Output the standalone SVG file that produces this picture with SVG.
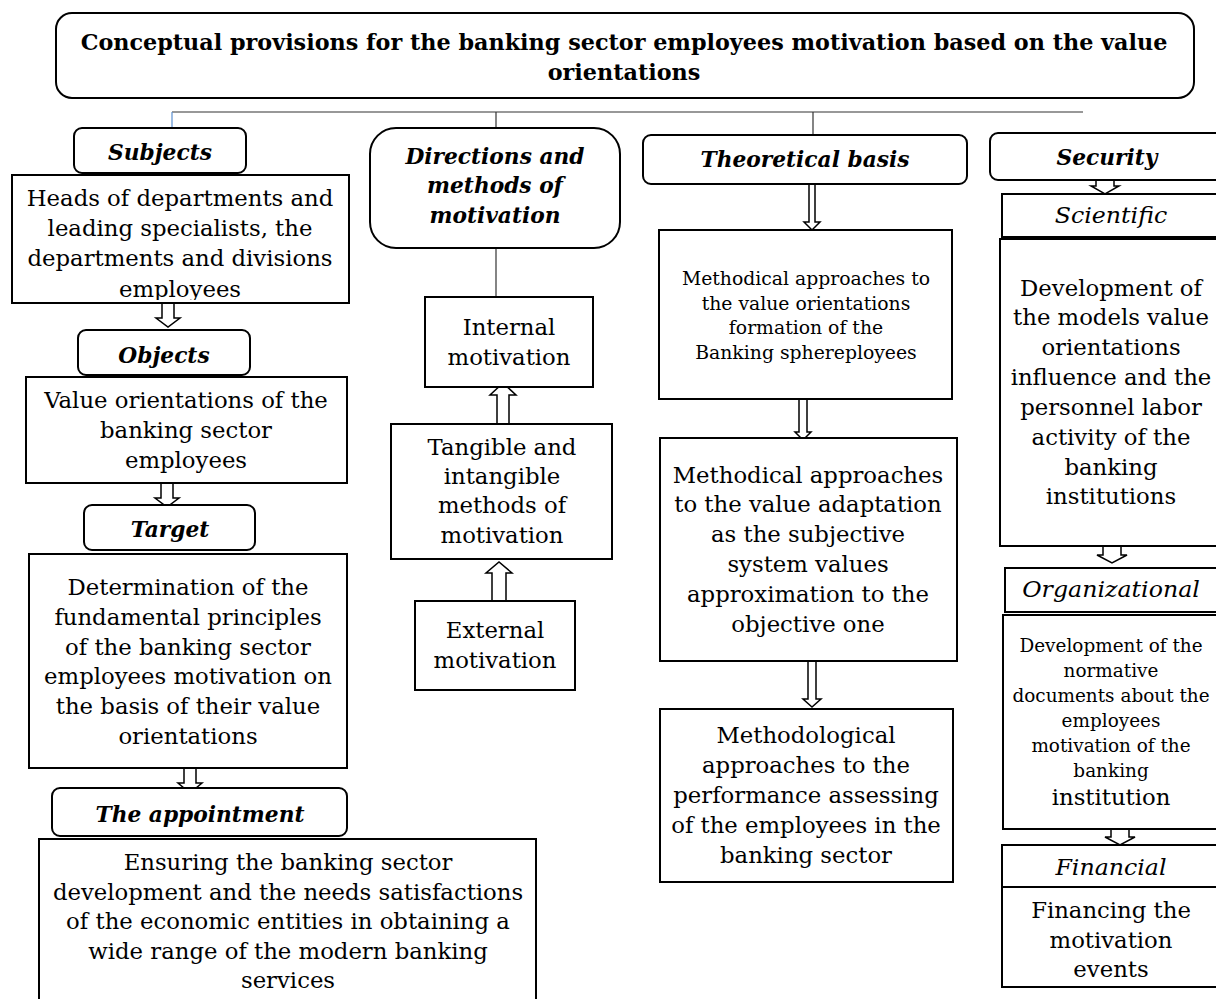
<svg xmlns="http://www.w3.org/2000/svg" width="1216" height="999" viewBox="0 0 1216 999">
<style>
text{font-family:"DejaVu Serif",serif;fill:#000;text-anchor:middle}
.t{font-weight:bold;font-size:23px}
.h{font-weight:bold;font-style:italic;font-size:23px}
.i{font-style:italic;font-size:23px}
.b{font-size:23px}
.s{font-size:19px}
.box{fill:#fff;stroke:#000;stroke-width:2}
.arr{fill:#fff;stroke:#000;stroke-width:1.5;stroke-linejoin:miter}
.ln{fill:none;stroke:#333;stroke-width:1.2}
</style>
<defs>
<clipPath id="clipSub"><rect x="12" y="175" width="337" height="125"/></clipPath>
</defs>
<rect width="1216" height="999" fill="#fff"/>

<g id="connectors">
<line class="ln" x1="172" y1="112" x2="1083" y2="112"/>
<line x1="172" y1="112" x2="172" y2="128" stroke="#5b8fd0" stroke-width="1.2"/>
<line class="ln" x1="496" y1="112" x2="496" y2="128"/>
<line class="ln" x1="813" y1="112" x2="813" y2="135"/>
<line class="ln" x1="496" y1="248" x2="496" y2="297"/>
<polygon class="arr" points="162,303 174,303 174,318 180,318 168,327 156,318 162,318"/>
<polygon class="arr" points="161,483 173,483 173,498 179,498 167,507 155,498 161,498"/>
<polygon class="arr" points="184,768 196,768 196,783 202,783 190,793 178,783 184,783"/>
<polygon class="arr" points="809,184 815,184 815,222 820,222 812,230 804,222 809,222"/>
<polygon class="arr" points="799,399 807,399 807,432 811,432 803,440 795,432 799,432"/>
<polygon class="arr" points="808,661 816,661 816,699 821,699 812,707 803,699 808,699"/>
<polygon class="arr" points="497,424 509,424 509,395 516,395 503,383 490,395 497,395"/>
<polygon class="arr" points="492,601 506,601 506,573 512,573 499,562 486,573 492,573"/>
<polygon class="arr" points="1096,180 1114,180 1114,186 1119,186 1105,194 1091,186 1096,186"/>
<polygon class="arr" points="1103,546 1121,546 1121,555 1127,555 1112,563 1097,555 1103,555"/>
<polygon class="arr" points="1111,829 1129,829 1129,837 1135,837 1120,845 1105,837 1111,837"/>
</g>

<g id="title">
<rect class="box" x="56" y="13" width="1138" height="85" rx="16"/>
<text class="t" transform="matrix(0.97 0 0 1 624 0)"><tspan x="0" y="50">Conceptual provisions for the banking sector employees motivation based on the value</tspan><tspan x="0" y="80">orientations</tspan></text>
</g>

<g id="subjects">
<rect class="box" x="74" y="128" width="172" height="45" rx="8"/>
<text class="h" transform="matrix(0.945 0 0 1 160 0)" y="160">Subjects</text>
</g>
<g id="subjects-content">
<rect class="box" x="12" y="175" width="337" height="128"/>
<g clip-path="url(#clipSub)">
<text class="b" transform="matrix(0.99 0 0 1 180 0)"><tspan x="0" y="206">Heads of departments and</tspan><tspan x="0" y="236">leading specialists, the</tspan><tspan x="0" y="266">departments and divisions</tspan><tspan x="0" y="297">employees</tspan></text>
</g>
</g>

<g id="objects">
<rect class="box" x="78" y="330" width="172" height="45" rx="8"/>
<text class="h" transform="matrix(0.945 0 0 1 164 0)" y="363">Objects</text>
</g>
<g id="objects-content">
<rect class="box" x="26" y="377" width="321" height="106"/>
<text class="b" transform="matrix(0.99 0 0 1 186 0)"><tspan x="0" y="408">Value orientations of the</tspan><tspan x="0" y="438">banking sector</tspan><tspan x="0" y="468">employees</tspan></text>
</g>

<g id="target">
<rect class="box" x="84" y="505" width="171" height="45" rx="8"/>
<text class="h" transform="matrix(0.945 0 0 1 170 0)" y="537">Target</text>
</g>
<g id="target-content">
<rect class="box" x="29" y="554" width="318" height="214"/>
<text class="b" transform="matrix(0.99 0 0 1 188 0)"><tspan x="0" y="595">Determination of the</tspan><tspan x="0" y="625">fundamental principles</tspan><tspan x="0" y="655">of the banking sector</tspan><tspan x="0" y="684">employees motivation on</tspan><tspan x="0" y="714">the basis of their value</tspan><tspan x="0" y="744">orientations</tspan></text>
</g>

<g id="appointment">
<rect class="box" x="52" y="788" width="295" height="48" rx="8"/>
<text class="h" transform="matrix(0.945 0 0 1 200 0)" y="822">The appointment</text>
</g>
<g id="appointment-content">
<rect class="box" x="39" y="839" width="497" height="170"/>
<text class="b" transform="matrix(0.99 0 0 1 288 0)"><tspan x="0" y="870">Ensuring the banking sector</tspan><tspan x="0" y="900">development and the needs satisfactions</tspan><tspan x="0" y="929">of the economic entities in obtaining a</tspan><tspan x="0" y="959">wide range of the modern banking</tspan><tspan x="0" y="988">services</tspan></text>
</g>

<g id="directions">
<rect class="box" x="370" y="128" width="250" height="120" rx="26"/>
<text class="h" transform="matrix(0.945 0 0 1 495 0)"><tspan x="0" y="164">Directions and</tspan><tspan x="0" y="193">methods of</tspan><tspan x="0" y="223">motivation</tspan></text>
</g>
<g id="internal">
<rect class="box" x="425" y="297" width="168" height="90"/>
<text class="b" transform="matrix(0.99 0 0 1 509 0)"><tspan x="0" y="335">Internal</tspan><tspan x="0" y="365">motivation</tspan></text>
</g>
<g id="tangible">
<rect class="box" x="391" y="424" width="221" height="135"/>
<text class="b" transform="matrix(0.99 0 0 1 502 0)"><tspan x="0" y="455">Tangible and</tspan><tspan x="0" y="484">intangible</tspan><tspan x="0" y="513">methods of</tspan><tspan x="0" y="543">motivation</tspan></text>
</g>
<g id="external">
<rect class="box" x="415" y="601" width="160" height="89"/>
<text class="b" transform="matrix(0.99 0 0 1 495 0)"><tspan x="0" y="638">External</tspan><tspan x="0" y="668">motivation</tspan></text>
</g>

<g id="theoretical">
<rect class="box" x="643" y="135" width="324" height="49" rx="8"/>
<text class="h" transform="matrix(0.945 0 0 1 805 0)" y="167">Theoretical basis</text>
</g>
<g id="theory-1">
<rect class="box" x="659" y="230" width="293" height="169"/>
<text class="s" transform="matrix(0.99 0 0 1 806 0)"><tspan x="0" y="285">Methodical approaches to</tspan><tspan x="0" y="310">the value orientations</tspan><tspan x="0" y="334">formation of the</tspan><tspan x="0" y="359">Banking sphereployees</tspan></text>
</g>
<g id="theory-2">
<rect class="box" x="660" y="438" width="297" height="223"/>
<text class="b" transform="matrix(0.99 0 0 1 808 0)"><tspan x="0" y="483">Methodical approaches</tspan><tspan x="0" y="512">to the value adaptation</tspan><tspan x="0" y="542">as the subjective</tspan><tspan x="0" y="572">system values</tspan><tspan x="0" y="602">approximation to the</tspan><tspan x="0" y="632">objective one</tspan></text>
</g>
<g id="theory-3">
<rect class="box" x="660" y="709" width="293" height="173"/>
<text class="b" transform="matrix(0.99 0 0 1 806 0)"><tspan x="0" y="743">Methodological</tspan><tspan x="0" y="773">approaches to the</tspan><tspan x="0" y="803">performance assessing</tspan><tspan x="0" y="833">of the employees in the</tspan><tspan x="0" y="863">banking sector</tspan></text>
</g>

<g id="security">
<rect class="box" x="990" y="133" width="240" height="47" rx="8"/>
<text class="h" transform="matrix(0.945 0 0 1 1107 0)" y="165">Security</text>
</g>
<g id="scientific">
<rect class="box" x="1002" y="194" width="230" height="43"/>
<text class="i" transform="matrix(1.03 0 0 1 1111 0)" y="223">Scientific</text>
</g>
<g id="scientific-content">
<rect class="box" x="1000" y="239" width="232" height="307"/>
<text class="b" transform="matrix(0.99 0 0 1 1111 0)"><tspan x="0" y="296">Development of</tspan><tspan x="0" y="325">the models value</tspan><tspan x="0" y="355">orientations</tspan><tspan x="0" y="385">influence and the</tspan><tspan x="0" y="415">personnel labor</tspan><tspan x="0" y="445">activity of the</tspan><tspan x="0" y="475">banking</tspan><tspan x="0" y="504">institutions</tspan></text>
</g>
<g id="organizational">
<rect class="box" x="1005" y="568" width="227" height="44"/>
<text class="i" transform="matrix(1.03 0 0 1 1111 0)" y="597">Organizational</text>
</g>
<g id="organizational-content">
<rect class="box" x="1003" y="615" width="229" height="214"/>
<text class="s" transform="matrix(0.97 0 0 1 1111 0)"><tspan x="0" y="652">Development of the</tspan><tspan x="0" y="677">normative</tspan><tspan x="0" y="702">documents about the</tspan><tspan x="0" y="727">employees</tspan><tspan x="0" y="752">motivation of the</tspan><tspan x="0" y="777">banking</tspan></text>
<text class="b" transform="matrix(0.99 0 0 1 1111 0)" y="805">institution</text>
</g>
<g id="financial">
<rect class="box" x="1002" y="845" width="230" height="42"/>
<text class="i" transform="matrix(1.03 0 0 1 1111 0)" y="875">Financial</text>
</g>
<g id="financial-content">
<rect class="box" x="1002" y="887" width="230" height="100"/>
<text class="b" transform="matrix(0.99 0 0 1 1111 0)"><tspan x="0" y="918">Financing the</tspan><tspan x="0" y="948">motivation</tspan><tspan x="0" y="977">events</tspan></text>
</g>
</svg>
